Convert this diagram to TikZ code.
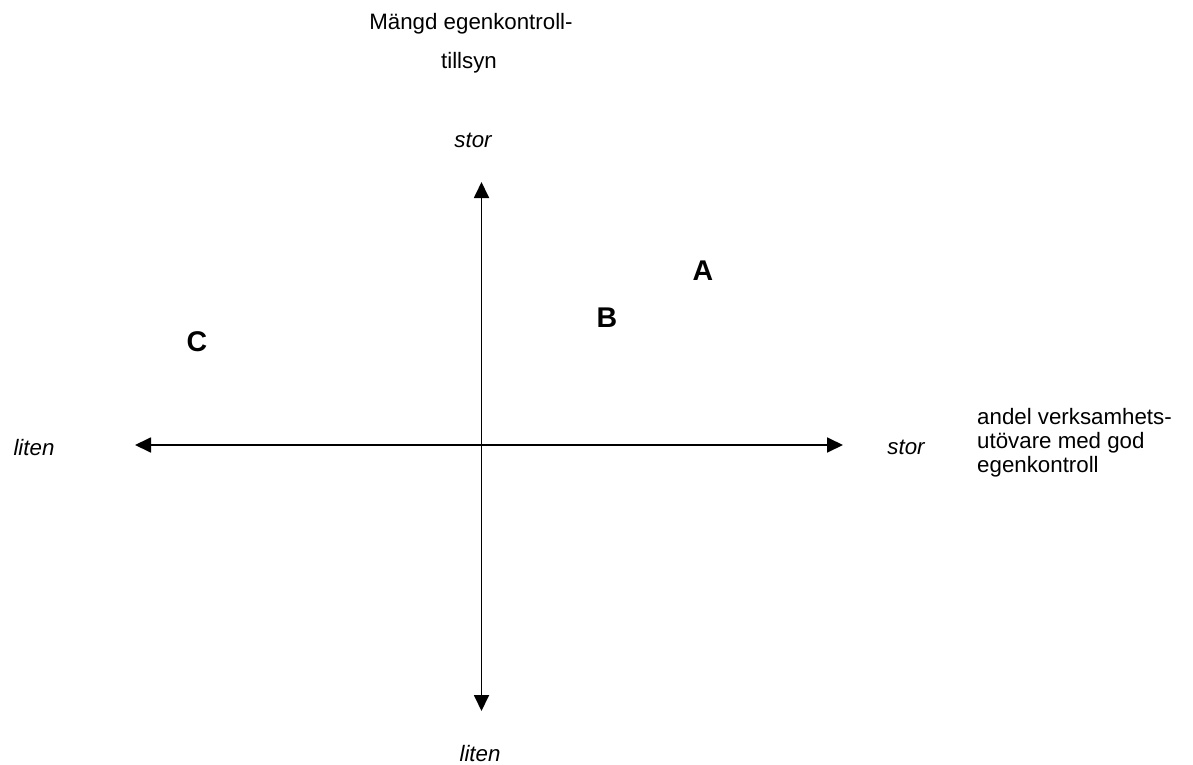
\documentclass[tikz,border=0pt]{standalone}
\usepackage{fontspec}
\setmainfont{Liberation Sans}
\usetikzlibrary{arrows.meta}
\begin{document}
\begin{tikzpicture}[x=1pt,y=1pt,
  lbl/.style={inner sep=0pt,font=\fontsize{22.3}{24}\selectfont},
  ilbl/.style={inner sep=0pt,font=\fontsize{22.3}{24}\selectfont\itshape},
  big/.style={inner sep=0pt,font=\fontsize{28.5}{32}\selectfont\bfseries},
  axis/.style={line width=1.8pt,{Triangle[length=16pt,width=15pt]}-{Triangle[length=16pt,width=15pt]}}]
\useasboundingbox (0,0) rectangle (1193,-765);
\coordinate (top) at (481.5,-182);
\coordinate (bot) at (481.5,-711);
\coordinate (left) at (135,-445);
\coordinate (right) at (843,-445);
\draw[axis] (bot) -- (top);
\draw[axis] (left) -- (right);
\node[lbl] (t1) at (471,-24) {Mängd egenkontroll-};
\node[lbl] (t2) at (469,-63) {tillsyn};
\node[ilbl] (stortop) at (473,-140) {stor};
\node[ilbl] (litenbot) at (480,-754) {liten};
\node[ilbl] (litenleft) at (34,-448) {liten};
\node[ilbl] (storright) at (906,-447) {stor};
\node[lbl,anchor=west,align=left] (andel) at (977,-443) {andel verksamhets-\\utövare med god\\egenkontroll};
\node[big] (A) at (703,-271) {A};
\node[big] (B) at (607,-318) {B};
\node[big] (C) at (197,-342) {C};
\end{tikzpicture}
\end{document}
